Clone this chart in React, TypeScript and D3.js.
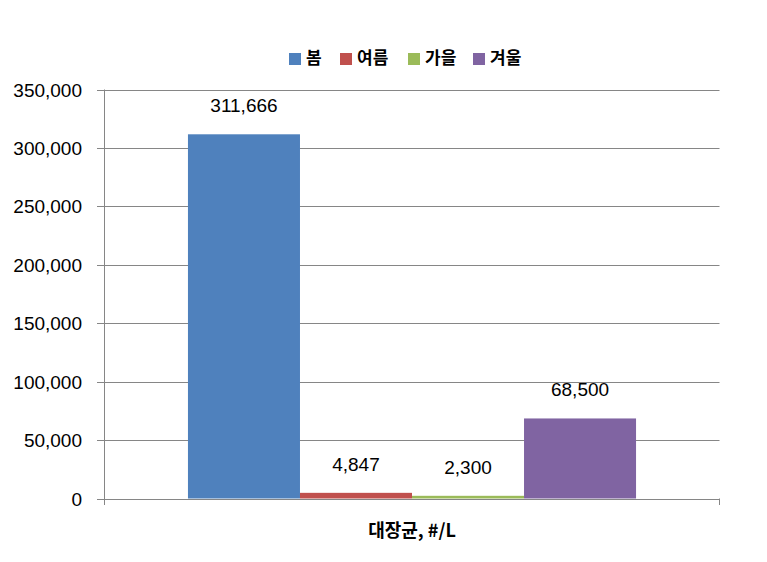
import React from "react";
import * as d3 from "d3";

const categories = ["대장균, #/L"];
const seriesNames = ["봄", "여름", "가을", "겨울"];
const seriesValues = [311666, 4847, 2300, 68500];
const seriesColors = ["#4F81BD", "#C0504D", "#9BBB59", "#8064A2"];
const yTicks = [0, 50000, 100000, 150000, 200000, 250000, 300000, 350000];

const W = 767;
const H = 562;
const left = 104.5;
const right = 719.5;
const top = 89.5;
const bottom = 498.5;

export default function App() {
  const y = d3.scaleLinear().domain([0, 350000]).range([bottom, top]);
  const x0 = d3.scaleBand().domain(categories).range([left, right]).paddingInner(0).paddingOuter(0);
  const x1 = d3
    .scaleBand()
    .domain(seriesNames)
    .range([0, x0.bandwidth()])
    .paddingOuter(0.745)
    .paddingInner(0);
  const fmt = d3.format(",");
  const legendX = [289, 340, 408, 473];
  const numFont = "'Liberation Sans', Arial, sans-serif";
  const krFont = "'Noto Sans CJK KR', 'Noto Sans', sans-serif";

  return (
    <svg
      width={W}
      height={H}
      style={{ position: "absolute", left: 0, top: 0, background: "#fff" }}
    >
      {yTicks.map((t) => (
        <g key={t}>
          <line x1={97} x2={right} y1={Math.round(y(t)) + 0.5} y2={Math.round(y(t)) + 0.5} stroke="#868686" strokeWidth={1} />
          <text
            x={82}
            y={Math.round(y(t)) + 7}
            textAnchor="end"
            fontFamily={numFont}
            fontSize={19}
            fill="#000"
          >
            {fmt(t)}
          </text>
        </g>
      ))}
      <line x1={left} x2={left} y1={top} y2={505} stroke="#868686" strokeWidth={1} />
      <line x1={right} x2={right} y1={bottom} y2={505} stroke="#868686" strokeWidth={1} />
      {categories.map((c) => (
        <g key={c}>
          {seriesNames.map((s, i) => {
            const bx = (x0(c) as number) + (x1(s) as number);
            const by = y(seriesValues[i]);
            return (
              <g key={s}>
                <rect
                  x={bx}
                  y={by}
                  width={x1.bandwidth()}
                  height={bottom - by}
                  fill={seriesColors[i]}
                />
                <text
                  x={bx + x1.bandwidth() / 2}
                  y={by - 22}
                  textAnchor="middle"
                  fontFamily={numFont}
                  fontSize={19}
                  fill="#000"
                >
                  {fmt(seriesValues[i])}
                </text>
              </g>
            );
          })}
          <text
            x={(x0(c) as number) + x0.bandwidth() / 2}
            y={537}
            textAnchor="middle"
            fontFamily={krFont}
            fontWeight={700}
            fontSize={18}
            fill="#000"
          >
            {c}
          </text>
        </g>
      ))}
      {seriesNames.map((s, i) => (
        <g key={s}>
          <rect x={legendX[i]} y={53} width={12} height={12} fill={seriesColors[i]} />
          <text
            x={legendX[i] + 17}
            y={64}
            fontFamily={krFont}
            fontWeight={700}
            fontSize={17}
            fill="#000"
          >
            {s}
          </text>
        </g>
      ))}
    </svg>
  );
}
